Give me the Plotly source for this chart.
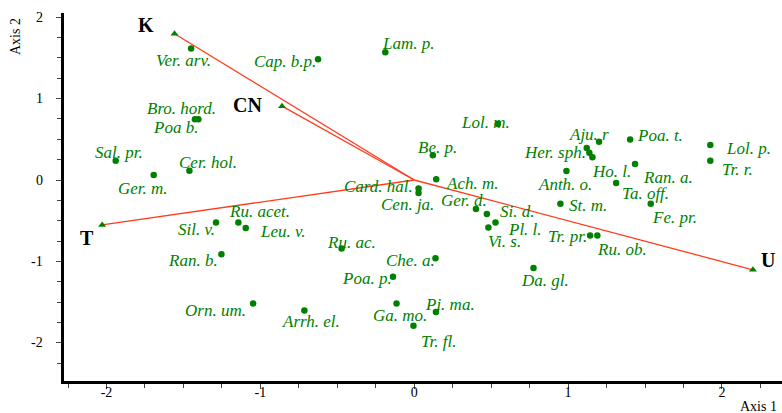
import plotly.graph_objects as go

# ---- species scores (Axis 1, Axis 2) ----
species = ["Ver. arv.", "Cap. b.p.", "Lam. p.", "Bro. hord.", "Poa b.", "Sal. pr.", "Cer. hol.", "Ger. m.",
           "Lol. m.", "Be. p.", "Ach. m.", "Card. hal.", "Cen. ja.", "Ger. d.", "Si. d.", "Pl. l.", "Vi. s.",
           "Ru. ac.", "Che. a.", "Poa. p.", "Ga. mo.", "Pi. ma.", "Tr. fl.", "Arrh. el.", "Orn. um.", "Ran. b.",
           "Sil. v.", "Ru. acet.", "Leu. v.", "Aju. r", "Her. sph.", "", "Ho. l.", "Ran. a.", "Poa. t.",
           "Lol. p.", "Tr. r.", "Anth. o.", "Ta. off.", "St. m.", "Fe. pr.", "Tr. pr.", "Ru. ob.", "Da. gl."]
axis1 = [-1.450, -0.625, -0.188, -1.403, -1.425, -1.940, -1.461, -1.693,
         0.543, 0.121, 0.143, 0.028, 0.028, 0.401, 0.472, 0.528, 0.482,
         -0.472, 0.138, -0.138, -0.115, 0.141, -0.005, -0.714, -1.047, -1.253,
         -1.288, -1.143, -1.095, 1.201, 1.121, 1.138, 1.158, 1.435, 1.403,
         1.924, 1.924, 0.989, 1.312, 0.950, 1.537, 1.143, 1.190, 0.775]
axis2 = [1.616, 1.485, 1.571, 0.748, 0.748, 0.237, 0.114, 0.061,
         0.687, 0.303, 0.009, -0.104, -0.160, -0.356, -0.417, -0.524, -0.585,
         -0.843, -0.961, -1.190, -1.518, -1.623, -1.791, -1.604, -1.518, -0.912,
         -0.524, -0.524, -0.589, 0.470, 0.393, 0.335, 0.279, 0.196, 0.499,
         0.429, 0.237, 0.110, -0.037, -0.291, -0.291, -0.683, -0.683, -1.083]

# ---- environmental vectors ----
env_names = ["K", "CN", "T", "U"]
env_axis1 = [-1.558, -0.859, -2.028, 2.201]
env_axis2 = [1.798, 0.908, -0.552, -1.104]

x_ticks = [-2, -1, 0, 1, 2]
x_ticklabels = ["-2", "-1", "0", "1", "2"]
y_ticks = [-2, -1, 0, 1, 2]
y_ticklabels = ["-2", "-1", "0", "1", "2"]

# label placement (pixel offsets from the point, dy positive = downwards)
label_dx = [-8, -33, 23, -17, -19.5, 3, 18.5, -11,
            -12, 5, 36, -40, -11, -12, 30, 30, 16,
            10, -25, -26, 3, 14, 25, 7, -38, -28,
            -20, 21, 37, -10.5, -32, 0, 19, 32.5, 29.5,
            38, 27, -1, 29.5, 28, 24, -22.5, 25, 12]
label_dy = [12, 2, -9, -11, 8, -8, -8, 13,
            -2, -8, 4, -1.5, 11, -8, -2, 7, 14,
            -6, 2, 2, 12, -8, 16, 11, 7, 6,
            7, -11, 4, -7, 4, 0, 14, 13, -4,
            3, 9, 13, 10, 2, 14, 1, 14, 12]
env_dx = [-28, -35, -15, 15]
env_dy = [-8.5, -1, 13, -10]

GREEN = "#008000"
RED = "#ff3c1e"
SERIF = "Liberation Serif, Times New Roman, serif"

fig = go.Figure()

# vector lines from the origin
lx, ly = [], []
for ex, ey in zip(env_axis1, env_axis2):
    lx += [0, ex, None]
    ly += [0, ey, None]
fig.add_trace(go.Scatter(x=lx, y=ly, mode="lines", line=dict(color=RED, width=1.3),
                         hoverinfo="skip", showlegend=False))
fig.add_trace(go.Scatter(x=env_axis1, y=env_axis2, mode="markers",
                         marker=dict(symbol="triangle-up", size=7, color=GREEN),
                         text=env_names, showlegend=False))
fig.add_trace(go.Scatter(x=axis1, y=axis2, mode="markers",
                         marker=dict(symbol="circle", size=6.5, color=GREEN),
                         text=species, showlegend=False))

annotations = []
for name, x, y, dx, dy in zip(species, axis1, axis2, label_dx, label_dy):
    if not name:
        continue
    annotations.append(dict(x=x, y=y, xref="x", yref="y", text=name, showarrow=False,
                            xshift=dx, yshift=-dy, xanchor="center", yanchor="middle",
                            font=dict(family=SERIF, size=17, color=GREEN, style="italic")))
for name, x, y, dx, dy in zip(env_names, env_axis1, env_axis2, env_dx, env_dy):
    annotations.append(dict(x=x, y=y, xref="x", yref="y", text="<b>%s</b>" % name, showarrow=False,
                            xshift=dx, yshift=-dy, xanchor="center", yanchor="middle",
                            font=dict(family=SERIF, size=20, color="black")))
# y tick labels placed on the y scale
for v, t in zip(y_ticks, y_ticklabels):
    annotations.append(dict(x=0, y=v, xref="paper", yref="y", text=t, showarrow=False,
                            xshift=-19, xanchor="right", yanchor="middle",
                            font=dict(family=SERIF, size=14, color="black")))
annotations.append(dict(x=0, y=1, xref="paper", yref="paper", text="Axis 2", showarrow=False,
                        textangle=-90, xshift=-49, yshift=-24, xanchor="center", yanchor="middle",
                        font=dict(family=SERIF, size=14, color="black")))
annotations.append(dict(x=1, y=0, xref="paper", yref="paper", text="Axis 1", showarrow=False,
                        xshift=-24, yshift=-25, xanchor="center", yanchor="middle",
                        font=dict(family=SERIF, size=14, color="black")))

fig.update_layout(
    width=782, height=413,
    margin=dict(l=64, r=0, t=13, b=32),
    paper_bgcolor="white", plot_bgcolor="white",
    annotations=annotations,
    showlegend=False,
)
fig.update_xaxes(range=[-2.276, 2.390], tickvals=x_ticks, ticktext=x_ticklabels,
                 showgrid=False, zeroline=False, showline=True, linecolor="black", linewidth=2.5,
                 ticks="outside", ticklen=5, tickcolor="#444", tickwidth=1, ticklabelstandoff=-9,
                 minor=dict(dtick=0.25, tick0=0, ticks="outside", ticklen=4, tickcolor="#444", tickwidth=1),
                 tickfont=dict(family=SERIF, size=14, color="black"))
fig.update_yaxes(range=[-2.471, 2.053], tickvals=y_ticks, showticklabels=False,
                 showgrid=False, zeroline=False, showline=True, linecolor="black", linewidth=2.5,
                 ticks="outside", ticklen=5, tickcolor="#444", tickwidth=1,
                 minor=dict(dtick=0.25, tick0=0, ticks="outside", ticklen=4, tickcolor="#444", tickwidth=1))

fig.write_html("out.html")
